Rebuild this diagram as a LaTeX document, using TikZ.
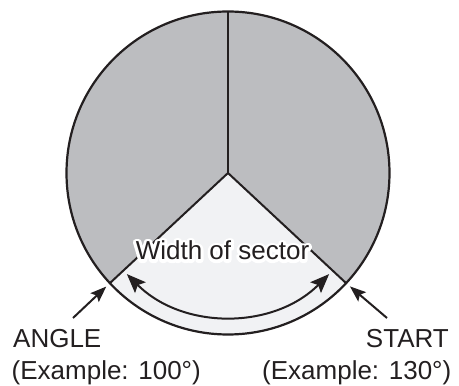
\documentclass[tikz,border=0pt]{standalone}
\usepackage{fontspec}
\setmainfont{Liberation Sans}
\usetikzlibrary{arrows.meta,calc}
\definecolor{sgray}{RGB}{188,189,192}
\definecolor{slight}{RGB}{241,242,244}
\definecolor{ink}{RGB}{35,31,32}
\newcommand{\halotext}[1]{\special{pdf:code q 1 1 1 RG 1 1 1 rg 6 w 1 j 2 Tr}#1\special{pdf:code Q}\llap{#1}}
\begin{document}
\begin{tikzpicture}[x=1pt,y=1pt,
  lbl/.style={font=\fontsize{26}{32}\selectfont, text=ink, inner sep=0pt},
  edge/.style={draw=ink, line width=2pt},
  bigtip/.style={edge, {Stealth[length=19pt,width=15pt,inset=3.5pt]}-{Stealth[length=19pt,width=15pt,inset=3.5pt]}},
  pointer/.style={edge, -{Stealth[length=16pt,width=12pt,inset=3pt]}, shorten >=5pt}]
\useasboundingbox (0,0) rectangle (459,386);
\def\rad{161.5}
\coordinate (C) at (228,213);
\coordinate (L) at ($(C)+(223:\rad)$);
\coordinate (R) at ($(C)+(317:\rad)$);
\coordinate (T) at ($(C)+(90:\rad)$);
% fills
\fill[sgray] (C) circle[radius=\rad];
\fill[slight] (C) -- (L) arc[start angle=223,end angle=317,radius=\rad] -- cycle;
% sector lines
\draw[edge, line join=miter] (L) -- (C) -- (R);
\draw[edge] (C) -- (T);
\draw[draw=ink, line width=2.2pt] (C) circle[radius=\rad];
% width arc
\coordinate (A1) at ($(C)+(225:143)$);
\draw[bigtip] (A1) arc[start angle=225,end angle=315,radius=143];
% label with halo
\node[lbl, anchor=base] (width) at (222.5,126) {\halotext{Width of sector}};
% bottom labels
\node[lbl, anchor=base west] (angle) at (13,38) {ANGLE};
\node[lbl, anchor=base west] (angleex) at (11.5,6) {(Example: 100°)};
\node[lbl, anchor=base east] (start) at (449,38) {START};
\node[lbl, anchor=base east] (startex) at (451.5,6) {(Example: 130°)};
% pointers
\coordinate (ltail) at (73,68);
\coordinate (rtail) at (387,68);
\draw[pointer] (ltail) -- (L);
\draw[pointer] (rtail) -- (R);
\end{tikzpicture}
\end{document}
